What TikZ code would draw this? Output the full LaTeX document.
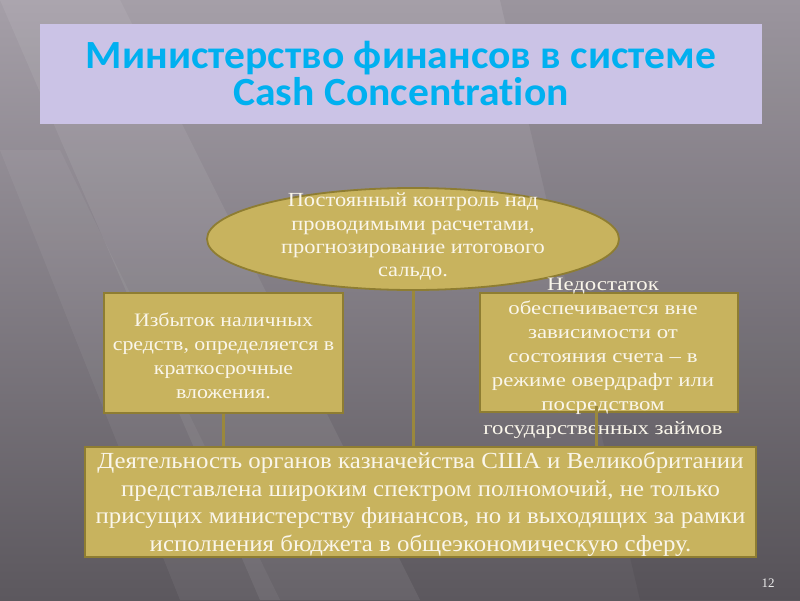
\documentclass[tikz,border=0pt]{standalone}
\usepackage{fontspec}
\setmainfont{Liberation Serif}
\newfontfamily\titlefont[Ligatures=NoCommon,FakeStretch=1.04]{Carlito}
\newfontfamily\serifA[FakeStretch=1.12]{Liberation Serif}
\newfontfamily\serifB[FakeStretch=1.15]{Liberation Serif}
\newfontfamily\serifC[FakeStretch=1.2]{Liberation Serif}
\newfontfamily\serifD[FakeStretch=1.08]{Liberation Serif}
\usetikzlibrary{shapes.geometric,calc}
\definecolor{gold}{HTML}{C8B35E}
\definecolor{goldline}{HTML}{8E7D32}
\definecolor{conn}{HTML}{9A883C}
\definecolor{txt}{HTML}{FAF6EA}
\definecolor{lav}{HTML}{CBC3E6}
\definecolor{cyantitle}{HTML}{00B0F0}
\definecolor{bgl}{HTML}{A59FA8}
\definecolor{bgr}{HTML}{5C585E}
\tikzset{
  goldbox/.style={draw=goldline, line width=1.8pt, fill=gold, inner sep=0pt},
  goldtext/.style={text=txt, align=center, inner sep=0pt},
  connector/.style={draw=conn, line width=3pt},
}
\begin{document}
\begin{tikzpicture}[x=1pt,y=-1pt]
\useasboundingbox (0,0) rectangle (800,600);
% background
\shade[left color=bgl, right color=bgr, shading angle=0] (0,0) rectangle (800,600);
\fill[white, opacity=0.07] (0,0) -- (120,0) -- (420,600) -- (260,600) -- cycle;
\fill[white, opacity=0.05] (0,150) -- (60,150) -- (280,600) -- (180,600) -- cycle;
\fill[black, opacity=0.06] (500,0) -- (800,0) -- (800,600) -- (640,600) -- cycle;
% title
\node[fill=lav, minimum width=722, minimum height=100, inner sep=0pt] (title) at (401,74) {};
\node[text=cyantitle, align=center, inner sep=0pt, font=\titlefont\bfseries\fontsize{40}{37}\selectfont] (titletext) at (401,73) {Министерство финансов в системе\\Cash Concentration};
% ellipse
\node[goldbox, ellipse, minimum width=412, minimum height=102] (ell) at (413,239) {};
\node[goldtext, font=\serifA\fontsize{20}{23.3}\selectfont] (elltext) at (413,237) {Постоянный контроль над\\проводимыми расчетами,\\прогнозирование итогового\\сальдо.};
% left box
\node[goldbox, minimum width=239, minimum height=120] (left) at (223.5,353) {};
\node[goldtext, font=\serifB\fontsize{19}{24}\selectfont] (lefttext) at (223.5,356) {Избыток наличных\\средств, определяется в\\краткосрочные\\вложения.};
% right box
\node[goldbox, minimum width=258, minimum height=119] (right) at (609,352.5) {};
\node[goldtext, font=\serifC\fontsize{19}{24}\selectfont] (righttext) at (603,358) {Недостаток\\обеспечивается вне\\зависимости от\\состояния счета – в\\режиме овердрафт или\\посредством\\государственных займов};
% bottom box
\node[goldbox, minimum width=671, minimum height=110] (bottom) at (420.5,502) {};
\node[goldtext, font=\serifD\fontsize{23}{27.5}\selectfont] (bottomtext) at (420.5,504) {Деятельность органов казначейства США и Великобритании\\представлена широким спектром полномочий, не только\\присущих министерству финансов, но и выходящих за рамки\\исполнения бюджета в общеэкономическую сферу.};
% connectors
\coordinate (rtop) at (596,406);
\draw[connector] (ell.south) -- (ell.south |- bottom.north);
\draw[connector] (left.south) -- (left.south |- bottom.north);
\draw[connector] (rtop) -- (rtop |- bottom.north);
% page number
\node[text=white!85!gray, font=\fontsize{13}{15}\selectfont, inner sep=0pt] (page) at (768,583) {12};
\end{tikzpicture}
\end{document}
